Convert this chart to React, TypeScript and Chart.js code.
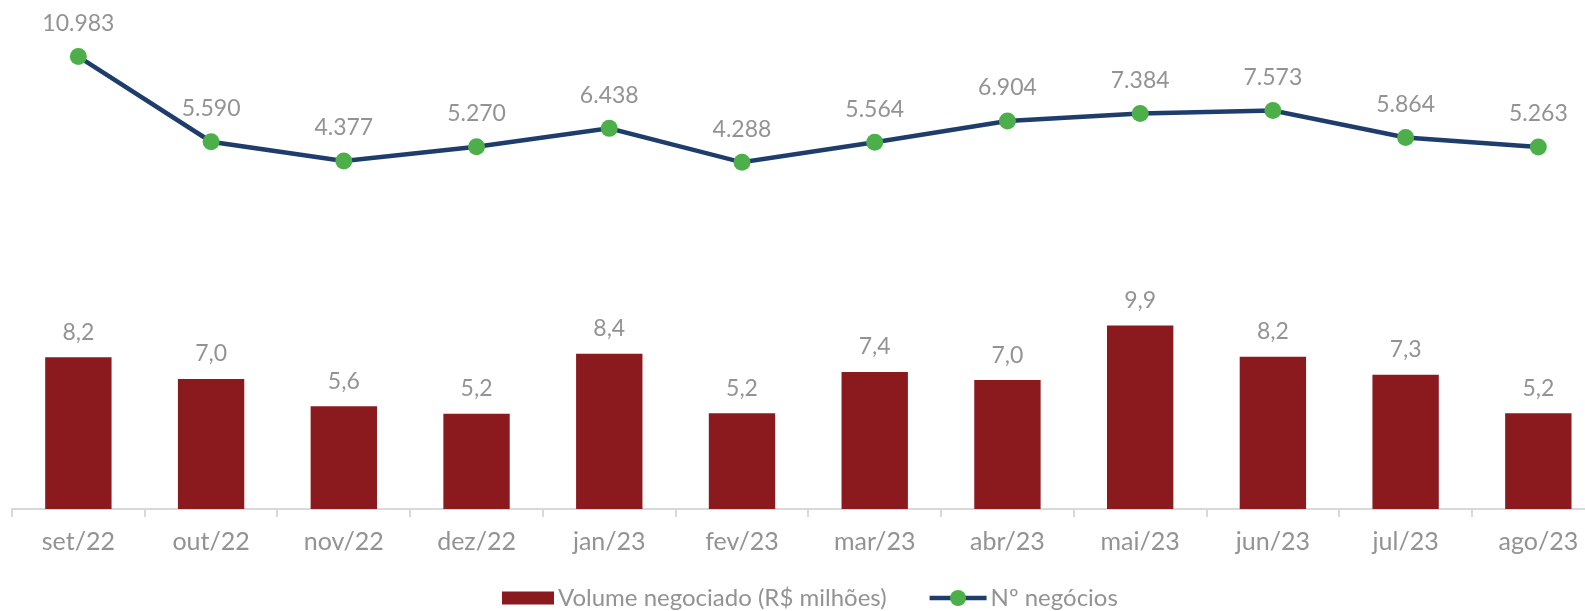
import React, { useEffect, useRef } from "react";
import { Chart, registerables } from "chart.js";

Chart.register(...registerables);

const categories = ["set/22", "out/22", "nov/22", "dez/22", "jan/23", "fev/23", "mar/23", "abr/23", "mai/23", "jun/23", "jul/23", "ago/23"];
const volumeNegociado = [8.22, 7.04, 5.56, 5.16, 8.4, 5.18, 7.42, 6.98, 9.93, 8.24, 7.27, 5.18];
const numNegocios = [10983, 5590, 4377, 5270, 6438, 4288, 5564, 6904, 7384, 7573, 5864, 5263];
const volumeLabel = "Volume negociado (R$ milhões)";
const negociosLabel = "Nº negócios";

const BAR_COLOR = "#8B1A1F";
const LINE_COLOR = "#1F3D6B";
const POINT_COLOR = "#4DAF4A";
const TEXT_COLOR = "#939393";
const AXIS_COLOR = "#D9D9D9";
const FONT = "Lato";

const W = 1622;
const H = 611;

const fmtThousands = (n: number) => String(Math.round(n)).replace(/\B(?=(\d{3})+(?!\d))/g, ".");
const fmtDecimal = (n: number) => n.toFixed(1).replace(".", ",");

const dataLabelsPlugin = {
  id: "dataLabels",
  afterDatasetsDraw(chart: any) {
    const ctx = chart.ctx;
    ctx.save();
    ctx.fillStyle = TEXT_COLOR;
    ctx.font = `23px ${FONT}`;
    ctx.textAlign = "center";
    ctx.textBaseline = "middle";
    chart.data.datasets.forEach((ds: any, i: number) => {
      const meta = chart.getDatasetMeta(i);
      meta.data.forEach((el: any, j: number) => {
        const v = ds.data[j];
        if (ds.type === "line") {
          ctx.fillText(fmtThousands(v), el.x, el.y - 33);
        } else {
          ctx.fillText(fmtDecimal(v), el.x, el.y - 25);
        }
      });
    });
    ctx.restore();
  },
};

const legendPlugin = {
  id: "customLegend",
  afterDraw(chart: any) {
    const ctx = chart.ctx;
    ctx.save();
    ctx.font = `24px ${FONT}`;
    ctx.textBaseline = "middle";
    ctx.textAlign = "left";
    const cy = 598;
    const rectW = 52;
    const rectH = 13;
    const lineW = 57;
    const t1 = ctx.measureText(volumeLabel).width;
    let x = 502;
    ctx.fillStyle = BAR_COLOR;
    ctx.fillRect(x, cy - rectH / 2, rectW, rectH);
    x += rectW + 4;
    ctx.fillStyle = TEXT_COLOR;
    ctx.fillText(volumeLabel, x, cy);
    x += t1 + 43;
    ctx.strokeStyle = LINE_COLOR;
    ctx.lineWidth = 4.5;
    ctx.beginPath();
    ctx.moveTo(x, cy);
    ctx.lineTo(x + lineW, cy);
    ctx.stroke();
    ctx.fillStyle = POINT_COLOR;
    ctx.beginPath();
    ctx.arc(x + lineW / 2, cy, 8, 0, Math.PI * 2);
    ctx.fill();
    x += lineW + 4;
    ctx.fillStyle = TEXT_COLOR;
    ctx.fillText(negociosLabel, x, cy);
    ctx.restore();
  },
};

export default function App() {
  const canvasRef = useRef<HTMLCanvasElement | null>(null);

  useEffect(() => {
    const canvas = canvasRef.current;
    if (!canvas) return;
    const chart = new Chart(canvas, {
      type: "bar",
      data: {
        labels: categories,
        datasets: [
          {
            type: "line",
            label: negociosLabel,
            data: numNegocios,
            yAxisID: "y1",
            borderColor: LINE_COLOR,
            borderWidth: 4.5,
            pointRadius: 8.5,
            pointHoverRadius: 8.5,
            pointBackgroundColor: POINT_COLOR,
            pointBorderWidth: 0,
            tension: 0,
            order: 0,
            clip: false,
          } as any,
          {
            type: "bar",
            label: volumeLabel,
            data: volumeNegociado,
            yAxisID: "y",
            backgroundColor: BAR_COLOR,
            barPercentage: 0.5,
            categoryPercentage: 1,
            order: 1,
          } as any,
        ],
      },
      options: {
        responsive: false,
        animation: false,
        devicePixelRatio: 1,
        layout: { autoPadding: false, padding: { left: 12, right: W - 1604.7, top: 0, bottom: 44 } },
        plugins: { legend: { display: false }, tooltip: { enabled: false } },
        scales: {
          x: {
            offset: true,
            grid: {
              display: true,
              drawOnChartArea: false,
              drawTicks: true,
              tickLength: 8,
              color: AXIS_COLOR,
              lineWidth: 2,
              offset: true,
            },
            border: { display: true, color: AXIS_COLOR, width: 2 },
            ticks: { color: TEXT_COLOR, font: { family: FONT, size: 25 }, padding: 10, maxRotation: 0, autoSkip: false },
          },
          y: { display: false, min: 0, max: 27.56 },
          y1: { display: false, min: -17657, max: 14564 },
        },
      },
      plugins: [dataLabelsPlugin, legendPlugin],
    });
    return () => chart.destroy();
  }, []);

  return (
    <div style={{ position: "fixed", left: 0, top: 0, width: 1585, height: 611, overflow: "hidden", background: "#fff" }}>
      <canvas ref={canvasRef} width={W} height={H} style={{ width: W, height: H, display: "block" }} />
    </div>
  );
}
